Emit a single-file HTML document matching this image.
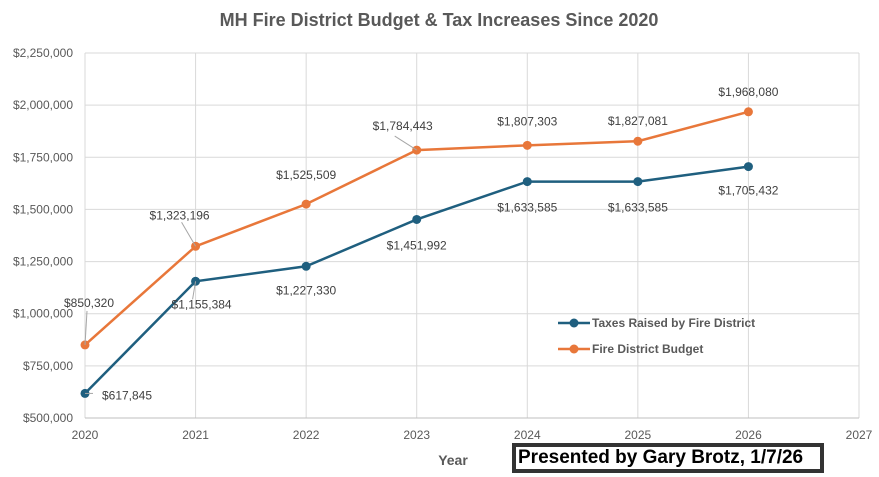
<!DOCTYPE html>
<html><head><meta charset="utf-8"><style>
body{margin:0;background:#fff;width:879px;height:472px;overflow:hidden;font-family:"Liberation Sans",sans-serif}
</style></head><body>
<svg id="chart" width="879" height="472" xmlns="http://www.w3.org/2000/svg"></svg>
<div style="position:absolute;left:512px;top:443px;width:302px;height:22px;border:4px solid #333;background:#fff;font:bold 19px 'Liberation Sans',sans-serif;color:#000;line-height:22px;padding-left:2px;white-space:nowrap;">Presented by Gary Brotz, 1/7/26</div>
<script>
const years=[2020,2021,2022,2023,2024,2025,2026];
const taxes=[617845,1155384,1227330,1451992,1633585,1633585,1705432];
const budget=[850320,1323196,1525509,1784443,1807303,1827081,1968080];
const yTicks=[500000,750000,1000000,1250000,1500000,1750000,2000000,2250000];
const xTicks=[2020,2021,2022,2023,2024,2025,2026,2027];
const x0=85,x1=859,y0=418,y1=53;
const X=v=>x0+(v-2020)/(2027-2020)*(x1-x0);
const Y=v=>y0-(v-500000)/(2250000-500000)*(y0-y1);
const svg=document.getElementById('chart');
const NS='http://www.w3.org/2000/svg';
function mk(t,a,txt){const e=document.createElementNS(NS,t);for(const k in a)e.setAttribute(k,a[k]);if(txt!==undefined)e.textContent=txt;svg.appendChild(e);return e;}
const fmt=v=>'$'+v.toLocaleString('en-US');
let e=mk('text',{x:439,y:26,'text-anchor':'middle','font-size':18,'font-weight':'bold',fill:'#595959'},'MH Fire District Budget & Tax Increases Since 2020');

yTicks.forEach(v=>{
 const l=mk('line',{x1:x0,x2:x1,y1:Y(v),y2:Y(v),stroke:'#d9d9d9'});
 
 const t=mk('text',{x:73,y:Y(v)+4,'text-anchor':'end','font-size':12,fill:'#595959'},fmt(v));
 
});
xTicks.forEach(v=>{
 const l=mk('line',{x1:X(v),x2:X(v),y1:y1,y2:y0,stroke:'#d9d9d9'});
 
 const t=mk('text',{x:X(v),y:439,'text-anchor':'middle','font-size':12,fill:'#595959'},String(v));
 
});
e=mk('line',{x1:x0,x2:x1,y1:y0,y2:y0,stroke:'#bfbfbf'});

e=mk('text',{x:453,y:465,'text-anchor':'middle','font-size':14,'font-weight':'bold',fill:'#595959'},'Year');

function series(vals,color,name){
 const p=mk('polyline',{points:vals.map((v,i)=>X(years[i])+','+Y(v)).join(' '),fill:'none',stroke:color,'stroke-width':2.5});
 
 vals.forEach((v,i)=>{const c=mk('circle',{cx:X(years[i]),cy:Y(v),r:4.5,fill:color});
  });
}
series(taxes,'#1f5f7f','taxes');
series(budget,'#e8773a','budget');
// labels: offsets relative to point
const budgetOff=[[4,-38],[-16,-27],[0,-25],[-14,-20],[0,-20],[0,-16],[0,-16]];
const taxesOff=[[42,6],[6,27],[0,28],[0,30],[0,30],[0,30],[0,28]];
function labels(vals,off,name,leader){
 vals.forEach((v,i)=>{const x=X(years[i]),y=Y(v);
  const t=mk('text',{x:x+off[i][0],y:y+off[i][1],'text-anchor':'middle','font-size':12,fill:'#404040'},fmt(v));
  
 });
}
labels(budget,budgetOff,'budget');labels(taxes,taxesOff,'taxes');
[[X(2020),Y(850320),X(2020)+2,Y(850320)-34],[X(2021),Y(1323196),X(2021)-14,Y(1323196)-24],[X(2023),Y(1784443),X(2023)-22,Y(1784443)-14],[X(2021),Y(1155384),X(2021)-3,Y(1155384)+18],[X(2020),Y(617845),X(2020)+8,Y(617845)]].forEach(a=>{
 const l=mk('line',{x1:a[0],y1:a[1],x2:a[2],y2:a[3],stroke:'#a6a6a6','stroke-width':1});
 
});
[[323,'#1f5f7f','Taxes Raised by Fire District','legend-taxes'],[349,'#e8773a','Fire District Budget','legend-budget']].forEach(r=>{
 const l=mk('line',{x1:558,x2:590,y1:r[0],y2:r[0],stroke:r[1],'stroke-width':2.5});
 
 const c=mk('circle',{cx:574,cy:r[0],r:4.5,fill:r[1]});
 
 const t=mk('text',{x:592,y:r[0]+4,'font-size':12,'font-weight':'bold',fill:'#595959'},r[2]);
 
});
</script>
</body></html>
